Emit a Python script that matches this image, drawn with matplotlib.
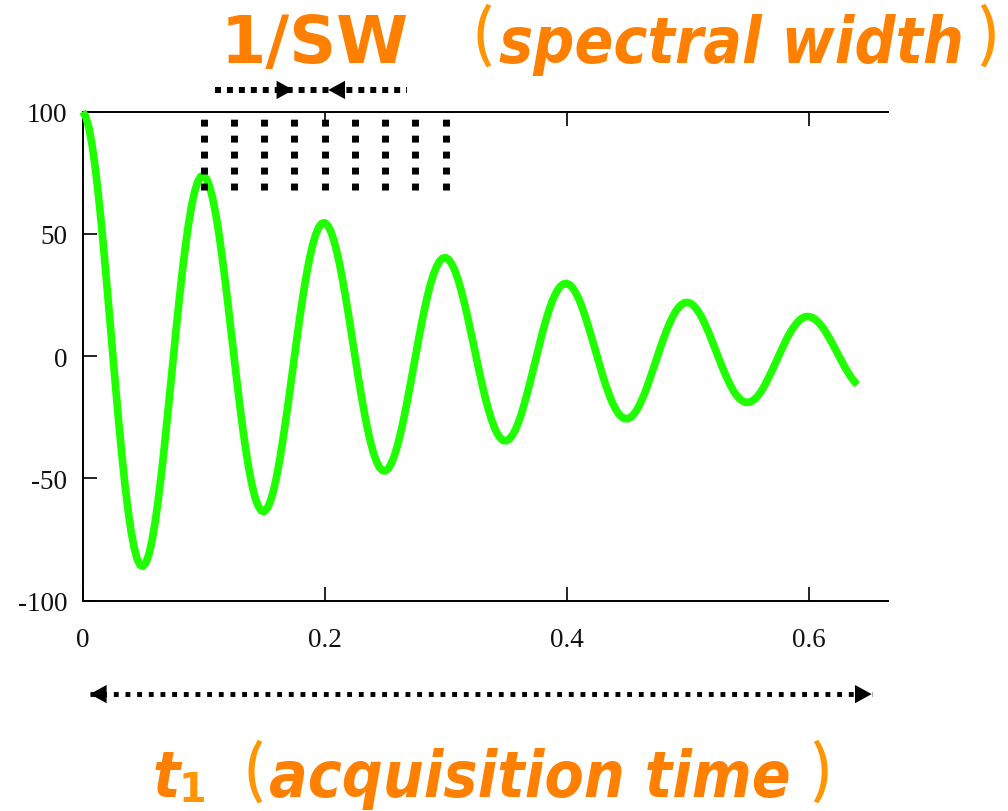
import numpy as np
import matplotlib
matplotlib.use("Agg")
import matplotlib.pyplot as plt
from matplotlib.font_manager import FontProperties
from matplotlib.textpath import TextPath

# FID, one point every 2.5 ms (0 .. 0.64 s)
fid_time = np.round(np.arange(257) * 0.0025, 4)
fid_signal = [
    100, 98.0, 93.7, 87.1, 78.5, 68.1, 56.2, 43.1, 29.1, 14.6,
    0, -14.4, -28.2, -41.1, -52.9, -63.1, -71.7, -78.3, -83.0, -85.5,
    -85.9, -84.2, -80.5, -74.9, -67.4, -58.5, -48.3, -37.0, -25.0, -12.6,
    0, 12.4, 24.2, 35.4, 45.4, 54.2, 61.6, 67.3, 71.3, 73.5,
    73.9, 72.4, 69.2, 64.3, 58.0, 50.3, 41.5, 31.8, 21.5, 10.8,
    0, -10.6, -20.8, -30.4, -39.0, -46.6, -52.9, -57.9, -61.3, -63.2,
    -63.5, -62.2, -59.5, -55.3, -49.8, -43.2, -35.6, -27.3, -18.5, -9.3,
    0, 9.1, 17.9, 26.1, 33.6, 40.1, 45.5, 49.7, 52.7, 54.3,
    54.6, 53.5, 51.1, 47.5, 42.8, 37.1, 30.6, 23.5, 15.9, 8.0,
    0, -7.9, -15.4, -22.4, -28.8, -34.4, -39.1, -42.7, -45.3, -46.7,
    -46.9, -46.0, -43.9, -40.8, -36.8, -31.9, -26.3, -20.2, -13.6, -6.9,
    0, 6.7, 13.2, 19.3, 24.8, 29.6, 33.6, 36.7, 38.9, 40.1,
    40.3, 39.5, 37.7, 35.1, 31.6, 27.4, 22.6, 17.4, 11.7, 5.9,
    0, -5.8, -11.4, -16.6, -21.3, -25.4, -28.9, -31.6, -33.4, -34.5,
    -34.6, -33.9, -32.4, -30.2, -27.2, -23.6, -19.4, -14.9, -10.1, -5.1,
    0, 5.0, 9.8, 14.2, 18.3, 21.9, 24.8, 27.1, 28.7, 29.6,
    29.8, 29.2, 27.9, 25.9, 23.4, 20.3, 16.7, 12.8, 8.7, 4.4,
    0, -4.3, -8.4, -12.2, -15.7, -18.8, -21.3, -23.3, -24.7, -25.5,
    -25.6, -25.1, -24.0, -22.3, -20.1, -17.4, -14.4, -11.0, -7.4, -3.7,
    0, 3.7, 7.2, 10.5, 13.5, 16.1, 18.3, 20.0, 21.2, 21.9,
    22.0, 21.6, 20.6, 19.1, 17.3, 15.0, 12.3, 9.5, 6.4, 3.2,
    0, -3.2, -6.2, -9.0, -11.6, -13.9, -15.8, -17.2, -18.2, -18.8,
    -18.9, -18.5, -17.7, -16.5, -14.8, -12.9, -10.6, -8.1, -5.5, -2.8,
    0, 2.7, 5.3, 7.8, 10.0, 11.9, 13.5, 14.8, 15.7, 16.2,
    16.2, 15.9, 15.2, 14.1, 12.7, 11.1, 9.1, 7.0, 4.7, 2.4,
    0, -2.3, -4.6, -6.7, -8.6, -10.2, -11.6,
]

# sampling points (dwell) marked above the first peaks
sample_times = [0.1, 0.125, 0.15, 0.175, 0.2, 0.225, 0.25, 0.275, 0.3]

x_ticks = [0, 0.2, 0.4, 0.6]
x_labels = ["0", "0.2", "0.4", "0.6"]
y_ticks = [-100, -50, 0, 50, 100]
y_labels = ["-100", "-50", "0", "50", "100"]

W, H = 1008, 812
fig = plt.figure(figsize=(W / 100, H / 100), dpi=100)
ax = fig.add_axes([82.7 / W, 1 - 601.7 / H, 805.3 / W, 489 / H])

ax.plot(fid_time, fid_signal, color="#20ff00", lw=5.5, zorder=3,
        clip_on=False, solid_capstyle="butt", solid_joinstyle="round")

ax.set_xlim(0, 0.6655)
ax.set_ylim(-100, 100)
ax.set_xticks(x_ticks, x_labels)
ax.set_yticks(y_ticks, y_labels)
ax.spines["right"].set_visible(False)
for s in ["left", "top", "bottom"]:
    ax.spines[s].set_linewidth(1.4)
ax.tick_params(axis="x", direction="in", top=True, length=10, width=1.2, pad=19)
ax.tick_params(axis="y", direction="in", length=10, width=1.2, pad=11)
for lab in ax.get_xticklabels() + ax.get_yticklabels():
    lab.set_fontfamily("Liberation Serif")
    lab.set_fontsize(19.5)
    lab.set_color("#111111")

# dotted sample markers
ax.vlines(sample_times, 68, 97.5, colors="k", lw=5, linestyles=[(0, (1, 1.3))],
          zorder=4, clip_on=False)

head = "-|>,head_length=0.6,head_width=0.33"


def dotted_arrow(x0, x1, y, lw, gap, tips):
    ax.plot([x0, x1], [y, y], color="k", lw=lw, ls=(0, (1, gap)),
            clip_on=False, zorder=4)
    for tip, back in tips:
        ax.annotate("", xy=(tip, y), xytext=(back, y), annotation_clip=False,
                    arrowprops=dict(arrowstyle=head, color="k", lw=0,
                                    shrinkA=0, shrinkB=0, mutation_scale=20))


dotted_arrow(0.109, 0.268, 108.9, 4.3, 1.0, [(0.174, 0.16), (0.203, 0.217)])
dotted_arrow(0.006, 0.652, -138.2, 3.5, 1.4, [(0.006, 0.02), (0.652, 0.638)])

# labels, placed by the ink edges seen in the picture
orange = "#ff8000"
paren_orange = "#ff9500"
up = FontProperties(family="DejaVu Sans", weight="bold")
obl = FontProperties(family="DejaVu Sans", weight="bold", style="oblique",
                     stretch="condensed")
cjk = FontProperties(family="Noto Sans CJK JP", weight="medium")


def put(s, fp, size, color, ink_left, baseline=None, ink_bottom=None):
    fp = fp.copy()
    fp.set_size(size)
    ext = TextPath((0, 0), s, prop=fp).get_extents()
    k = fig.dpi / 72
    x = ink_left - ext.x0 * k
    if baseline is None:
        baseline = ink_bottom + ext.y0 * k
    fig.text(x / W, 1 - baseline / H, s, fontproperties=fp, color=color,
             ha="left", va="baseline")


put("1/SW", up, 47, orange, 228, baseline=63)
put("(", cjk, 45, paren_orange, 477, ink_bottom=67)
put("spectral width", obl, 46, orange, 500, baseline=63)
put(")", cjk, 45, paren_orange, 980, ink_bottom=67)

put("t", obl, 46, orange, 155, baseline=797)
put("1", up, 28.6, paren_orange, 183, ink_bottom=802)
put("(", cjk, 45, paren_orange, 248, ink_bottom=803)
put("acquisition time", obl, 46, orange, 270, baseline=797)
put(")", cjk, 45, paren_orange, 813, ink_bottom=803)

fig.savefig("out.png", dpi=100)
